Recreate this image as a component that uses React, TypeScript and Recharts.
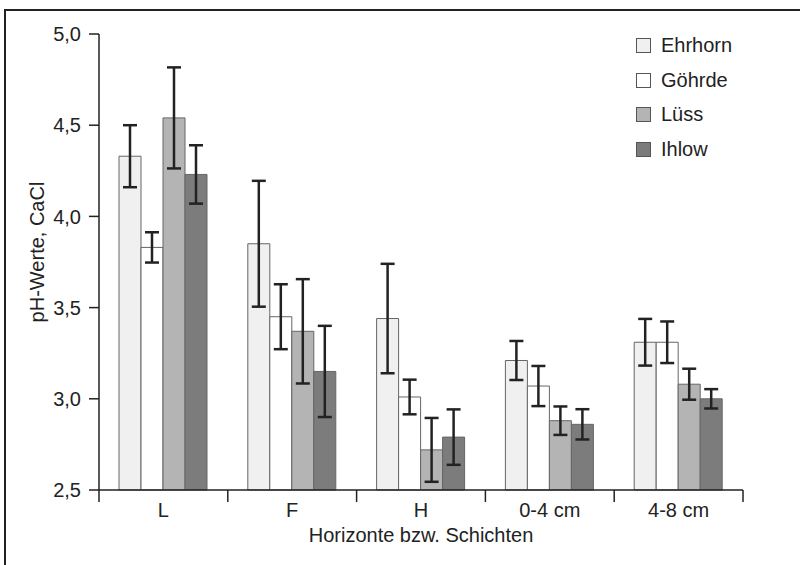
import {
  BarChart,
  Bar,
  XAxis,
  YAxis,
  ErrorBar,
  Legend,
} from "recharts";

const categories = ["L", "F", "H", "0-4 cm", "4-8 cm"];
const seriesNames = ["Ehrhorn", "Göhrde", "Lüss", "Ihlow"];
const ehrhorn = [4.33, 3.85, 3.44, 3.21, 3.31];
const ehrhornErr = [0.17, 0.345, 0.3, 0.107, 0.128];
const goehrde = [3.83, 3.45, 3.01, 3.07, 3.31];
const goehrdeErr = [0.083, 0.178, 0.095, 0.11, 0.114];
const luess = [4.54, 3.37, 2.72, 2.88, 3.08];
const luessErr = [0.277, 0.286, 0.175, 0.078, 0.085];
const ihlow = [4.23, 3.15, 2.79, 2.86, 3.0];
const ihlowErr = [0.16, 0.25, 0.152, 0.083, 0.053];
const yTicks = [2.5, 3.0, 3.5, 4.0, 4.5, 5.0];

const data = categories.map((name, i) => ({
  name,
  ehrhorn: ehrhorn[i],
  ehrhornErr: ehrhornErr[i],
  goehrde: goehrde[i],
  goehrdeErr: goehrdeErr[i],
  luess: luess[i],
  luessErr: luessErr[i],
  ihlow: ihlow[i],
  ihlowErr: ihlowErr[i],
}));

const FONT = "'Liberation Sans', Arial, Helvetica, sans-serif";
const FS = 20;
const INK = "#222";
const BAR_STROKE = "#666";
const TICK_MARGIN = 13;

// category label plus the separator ticks at the band edges
const CategoryTick = (props: any) => {
  const { x, y, payload, index, visibleTicksCount } = props;
  const half = payload?.offset ?? 0;
  const axisY = y - TICK_MARGIN;
  const last = index === (visibleTicksCount ?? categories.length) - 1;
  return (
    <g>
      <line x1={x - half} y1={axisY} x2={x - half} y2={axisY + 12} stroke={INK} strokeWidth={1.5} />
      {last && (
        <line x1={x + half} y1={axisY} x2={x + half} y2={axisY + 12} stroke={INK} strokeWidth={1.5} />
      )}
      <text x={x} y={y} dy="0.71em" textAnchor="middle" fontFamily={FONT} fontSize={FS} fill={INK}>
        {payload.value}
      </text>
    </g>
  );
};

const renderLegend = (props: any) => {
  const items = [...(props.payload || [])].sort(
    (a: any, b: any) => seriesNames.indexOf(a.value) - seriesNames.indexOf(b.value)
  );
  return (
    <div
      style={{
        position: "absolute",
        left: 0,
        top: 0,
        width: 150,
        fontFamily: FONT,
        fontSize: FS,
        color: INK,
      }}
    >
      {items.map((it: any) => (
        <div
          key={it.value}
          style={{ display: "flex", alignItems: "center", height: 34.7 }}
        >
          <span
            style={{
              display: "inline-block",
              width: 13,
              height: 13,
              background: it.color,
              border: "1px solid #555",
              marginRight: 10,
            }}
          />
          <span>{it.value}</span>
        </div>
      ))}
    </div>
  );
};

const YLabel = (props: any) => {
  const { viewBox } = props;
  const cy = viewBox.y + viewBox.height / 2 - 10;
  const cx = 44;
  return (
    <text
      x={cx}
      y={cy}
      transform={`rotate(-90, ${cx}, ${cy})`}
      textAnchor="middle"
      fontFamily={FONT}
      fontSize={FS}
      fill={INK}
    >
      pH-Werte, CaCl
    </text>
  );
};

const XLabel = (props: any) => {
  const { viewBox } = props;
  return (
    <text
      x={viewBox.x + viewBox.width / 2}
      y={viewBox.y + 52}
      textAnchor="middle"
      fontFamily={FONT}
      fontSize={FS}
      fill={INK}
    >
      Horizonte bzw. Schichten
    </text>
  );
};

export default function App() {
  return (
    <div
      style={{
        position: "absolute",
        left: 0,
        top: 0,
        width: 800,
        height: 565,
        background: "#fff",
        overflow: "hidden",
      }}
    >
      <div
        style={{
          position: "absolute",
          left: 4,
          top: 9,
          width: 820,
          height: 600,
          borderLeft: "2px solid #222",
          borderTop: "2px solid #222",
        }}
      />
      <BarChart
        width={800}
        height={565}
        data={data}
        margin={{ top: 34, right: 57, bottom: 74, left: 0 }}
        barGap={0}
        barSize={22}
        style={{ position: "absolute", left: 0, top: 0 }}
      >
        <XAxis
          dataKey="name"
          height={1}
          tickLine={false}
          axisLine={{ stroke: INK, strokeWidth: 1.5 }}
          tickSize={0}
          tickMargin={TICK_MARGIN}
          tick={<CategoryTick />}
          interval={0}
          label={<XLabel />}
        />
        <YAxis
          domain={[2.5, 5]}
          ticks={yTicks}
          width={99}
          tickSize={10}
          tickMargin={8}
          tickFormatter={(v: number) => v.toFixed(1).replace(".", ",")}
          tick={{ fontFamily: FONT, fontSize: FS, fill: INK }}
          axisLine={{ stroke: INK, strokeWidth: 1.5 }}
          tickLine={{ stroke: INK, strokeWidth: 1.5 }}
          label={<YLabel />}
        />
        <Legend
          content={renderLegend}
          layout="vertical"
          verticalAlign="top"
          align="right"
          wrapperStyle={{
            position: "absolute",
            left: 636,
            top: 28,
            width: 0,
            height: 0,
            overflow: "visible",
          }}
        />
        <Bar
          dataKey="ehrhorn"
          name="Ehrhorn"
          fill="#f0f0f0"
          stroke={BAR_STROKE}
          strokeWidth={1}
          isAnimationActive={false}
        >
          <ErrorBar dataKey="ehrhornErr" width={7} stroke={INK} strokeWidth={2.5} />
        </Bar>
        <Bar
          dataKey="goehrde"
          name="Göhrde"
          fill="#ffffff"
          stroke={BAR_STROKE}
          strokeWidth={1}
          isAnimationActive={false}
        >
          <ErrorBar dataKey="goehrdeErr" width={7} stroke={INK} strokeWidth={2.5} />
        </Bar>
        <Bar
          dataKey="luess"
          name="Lüss"
          fill="#b4b4b4"
          stroke={BAR_STROKE}
          strokeWidth={1}
          isAnimationActive={false}
        >
          <ErrorBar dataKey="luessErr" width={7} stroke={INK} strokeWidth={2.5} />
        </Bar>
        <Bar
          dataKey="ihlow"
          name="Ihlow"
          fill="#7c7c7c"
          stroke={BAR_STROKE}
          strokeWidth={1}
          isAnimationActive={false}
        >
          <ErrorBar dataKey="ihlowErr" width={7} stroke={INK} strokeWidth={2.5} />
        </Bar>
      </BarChart>
    </div>
  );
}
